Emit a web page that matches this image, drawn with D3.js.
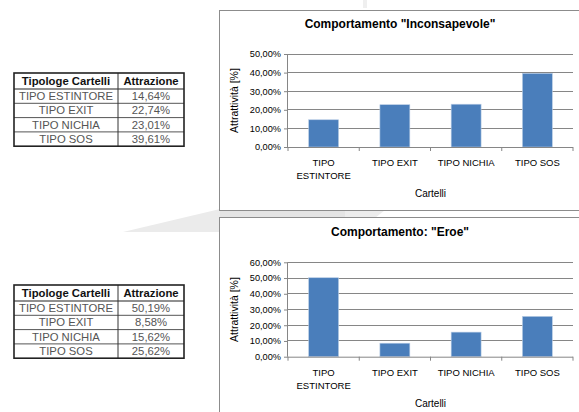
<!DOCTYPE html>
<html><head><meta charset="utf-8">
<script src="https://cdn.jsdelivr.net/npm/d3@7"></script>
<style>
html,body{margin:0;padding:0;background:#fff;}
svg{display:block;font-family:"Liberation Sans",Arial,sans-serif;}
</style></head>
<body><svg id="c" width="579" height="412"></svg>
<script>
const categories = ["TIPO ESTINTORE","TIPO EXIT","TIPO NICHIA","TIPO SOS"];
const axisLabels = ["TIPO\nESTINTORE","TIPO EXIT","TIPO NICHIA","TIPO SOS"];
const inconsapevole = [14.64,22.74,23.01,39.61];
const eroe = [50.19,8.58,15.62,25.62];
const ticks1 = [0,10,20,30,40,50];
const ticks2 = [0,10,20,30,40,50,60];
const titles = ['Comportamento "Inconsapevole"','Comportamento: "Eroe"'];
const tableHeader = ["Tipologe Cartelli","Attrazione"];

const svg = d3.select("#c");
const fmt = v => d3.format(".2f")(v).replace(".", ",") + "%";

// faint watermark shapes
svg.append("path").attr("d","M123,232 L220,209 L220,232 Z").attr("fill","#ebebeb");
svg.append("path").attr("d","M220,210 L345,210 L345,218 L220,218 Z").attr("fill","#e4e4e4");
svg.append("path").attr("d","M345,210 L385,210 L375,218 L345,218 Z").attr("fill","#ececec");
svg.append("path").attr("d","M363,0 L367,0 L367,8 L363,8 Z").attr("fill","#efefef");

function drawTable(top, values){
  const left = 14, right = 184, mid = 118, hh = 16, rh = 14.3;
  const bottom = top + hh + rh*values.length;
  const g = svg.append("g");
  for(let i=0;i<values.length;i++){
    const y = top + hh + rh*i;
    g.append("line").attr("x1",left).attr("x2",right).attr("y1",y).attr("y2",y)
      .attr("stroke", i===0 ? "#222" : "#555").attr("stroke-width", i===0?1.2:1);
  }
  g.append("line").attr("x1",mid).attr("x2",mid).attr("y1",top).attr("y2",bottom).attr("stroke","#333");
  g.append("rect").attr("x",left).attr("y",top).attr("width",right-left).attr("height",bottom-top)
    .attr("fill","none").attr("stroke","#222").attr("stroke-width",1.6);
  g.append("text").attr("x",(left+mid)/2).attr("y",top+12).attr("text-anchor","middle")
    .attr("font-size","11.3px").attr("font-weight","bold").attr("fill","#111").text(tableHeader[0]);
  g.append("text").attr("x",(mid+right)/2).attr("y",top+12).attr("text-anchor","middle")
    .attr("font-size","11.3px").attr("font-weight","bold").attr("fill","#111").text(tableHeader[1]);
  values.forEach((v,i)=>{
    const y = top + hh + rh*i + 11;
    g.append("text").attr("x",(left+mid)/2).attr("y",y).attr("text-anchor","middle")
      .attr("font-size","11.3px").attr("fill","#555").text(categories[i]);
    g.append("text").attr("x",(mid+right)/2).attr("y",y).attr("text-anchor","middle")
      .attr("font-size","11.3px").attr("fill","#555").text(fmt(v));
  });
}
drawTable(73, inconsapevole);
drawTable(285, eroe);

function drawChart(box, plot, values, ticks, title){
  svg.append("rect").attr("x",box.x).attr("y",box.y).attr("width",box.w).attr("height",box.h)
    .attr("fill","#fff").attr("stroke","#8c8c8c").attr("stroke-width",1);
  const g = svg.append("g");
  const y = d3.scaleLinear().domain([0, d3.max(ticks)]).range([plot.y0, plot.y1]);
  const xb = d3.scaleBand().domain(categories).range([plot.x0, plot.x1]).padding(0);
  const xbar = d3.scaleBand().domain(categories).range([plot.x0, plot.x1]).paddingInner(0.58).paddingOuter(0.29);

  g.selectAll("line.grid").data(ticks.filter(t=>t>0)).join("line").attr("class","grid")
    .attr("x1",plot.x0).attr("x2",plot.x1).attr("y1",d=>y(d)).attr("y2",d=>y(d))
    .attr("stroke","#868686").attr("stroke-width",1).attr("shape-rendering","crispEdges");

  g.selectAll("rect.bar").data(values).join("rect").attr("class","bar")
    .attr("x",(d,i)=>xbar(categories[i])).attr("width",xbar.bandwidth())
    .attr("y",d=>y(d)).attr("height",d=>y(0)-y(d))
    .attr("fill","#4a7ebb").attr("stroke","#b9cde5").attr("stroke-width",0.6);

  const ya = g.append("g").attr("transform",`translate(${plot.x0},0)`)
    .call(d3.axisLeft(y).tickValues(ticks).tickSize(4).tickPadding(3).tickFormat(fmt));
  ya.select(".domain").attr("stroke","#868686").attr("d",`M-0.5,${y(0)}V${y(d3.max(ticks))}`);
  ya.selectAll(".tick line").attr("stroke","#868686");
  ya.selectAll(".tick text").attr("font-size","9.2px").attr("fill","#000")
    .attr("font-family","'Liberation Sans',Arial,sans-serif");

  const xa = g.append("g").attr("transform",`translate(0,${y(0)})`)
    .call(d3.axisBottom(xb).tickSize(0).tickPadding(0).tickFormat(()=>""));
  xa.select(".domain").attr("stroke","#868686").attr("d",`M${plot.x0},0.5H${plot.x1}`);
  const bounds = categories.map(c=>xb(c)).concat([plot.x1]);
  xa.selectAll("line.bt").data(bounds).join("line").attr("class","bt")
    .attr("x1",d=>d).attr("x2",d=>d).attr("y1",0).attr("y2",4).attr("stroke","#868686");
  xa.selectAll(".tick").each(function(c,i){
    const t = d3.select(this).append("text").attr("fill","#000").attr("font-size","9.5px")
      .attr("text-anchor","middle").attr("font-family","'Liberation Sans',Arial,sans-serif");
    axisLabels[i].split("\n").forEach((s,k)=>{
      t.append("tspan").attr("x",0).attr("y",19 + k*13).text(s);
    });
  });

  g.append("text").attr("x",plot.titleX).attr("y",plot.titleY).attr("text-anchor","middle")
    .attr("font-size","12px").attr("font-weight","bold").attr("fill","#000").text(title);
  g.append("text").attr("x",(plot.x0+plot.x1)/2).attr("y",plot.xlabY).attr("text-anchor","middle")
    .attr("font-size","10px").attr("fill","#000").text("Cartelli");
  g.append("text").attr("transform",`translate(238,${(plot.y0+plot.y1)/2}) rotate(-90)`)
    .attr("text-anchor","middle").attr("font-size","10.5px").attr("fill","#000").text("Attrattività [%]");
}

drawChart({x:219.5,y:10.5,w:370,h:200},
  {x0:288,x1:573,y0:147,y1:54,titleX:400,titleY:28,xlabY:197},
  inconsapevole, ticks1, titles[0]);
drawChart({x:219.5,y:217.5,w:370,h:210},
  {x0:288,x1:573,y0:356.7,y1:262.3,titleX:400,titleY:236,xlabY:407},
  eroe, ticks2, titles[1]);
</script></body></html>
